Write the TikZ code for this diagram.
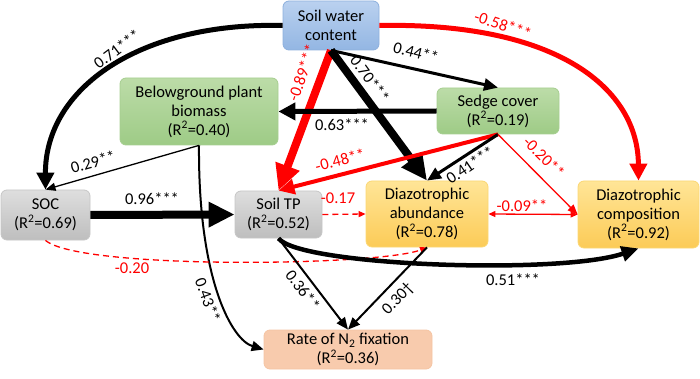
\documentclass[tikz,border=0pt]{standalone}
\usepackage{fontspec}
\setmainfont{Carlito}
\usetikzlibrary{arrows.meta}

\definecolor{bluetop}{HTML}{BAD1EF}
\definecolor{bluebot}{HTML}{93B6E3}
\definecolor{blueline}{HTML}{8DB0DD}
\definecolor{greentop}{HTML}{BCDCA8}
\definecolor{greenbot}{HTML}{9ECB86}
\definecolor{greenline}{HTML}{A6CE90}
\definecolor{graytop}{HTML}{DEDEDE}
\definecolor{graybot}{HTML}{BEBEBE}
\definecolor{grayline}{HTML}{C6C6C6}
\definecolor{orangetop}{HTML}{FFE597}
\definecolor{orangebot}{HTML}{FCCB57}
\definecolor{orangeline}{HTML}{FBD774}
\definecolor{peachfill}{HTML}{F8CBAD}
\definecolor{peachline}{HTML}{F5C4A3}

\tikzset{
  box/.style={rounded corners=6pt, line width=0.8pt, align=center, inner sep=0pt,
    font=\fontsize{16.5}{19}\selectfont},
  bluebox/.style={box, draw=blueline, top color=bluetop, bottom color=bluebot},
  greenbox/.style={box, draw=greenline, top color=greentop, bottom color=greenbot},
  graybox/.style={box, draw=grayline, top color=graytop, bottom color=graybot},
  orangebox/.style={box, draw=orangeline, top color=orangetop, bottom color=orangebot},
  peachbox/.style={box, draw=peachline, fill=peachfill},
  lbl/.style={inner sep=0pt, font=\fontsize{16.5}{19}\selectfont},
  redlbl/.style={lbl, text=red},
  heavy/.style={line width=8pt, -{Triangle[length=26pt,width=24pt]}},
  strong/.style={line width=5pt, -{Triangle[length=17pt,width=17pt]}},
  mid/.style={line width=3pt, -{Triangle[length=14pt,width=12pt]}},
  fine/.style={line width=2pt, -{Triangle[length=12pt,width=10pt]}},
  hair/.style={line width=1.3pt, -{Triangle[length=10pt,width=8pt]}},
  dashline/.style={red, line width=1.3pt, dash pattern=on 6pt off 4pt,
    -{Triangle[length=7pt,width=6pt]}},
}

\begin{document}
\begin{tikzpicture}[x=1pt,y=-1pt]
    \useasboundingbox (0,0) rectangle (700,379);
    % boxes
    \node[bluebox, minimum width=96pt, minimum height=49pt] (swc) at (331,25.5) {Soil water\\content};
    \node[greenbox, minimum width=158pt, minimum height=67pt] (bpb) at (199,111.5) {Belowground plant\\biomass\\(R\textsuperscript{2}=0.40)};
    \node[greenbox, minimum width=122pt, minimum height=46pt] (sedge) at (498,111) {Sedge cover\\(R\textsuperscript{2}=0.19)};
    \node[graybox, minimum width=89pt, minimum height=50pt] (soc) at (45.5,215) {SOC\\(R\textsuperscript{2}=0.69)};
    \node[graybox, minimum width=87pt, minimum height=47pt] (tp) at (278.5,214.5) {Soil TP\\(R\textsuperscript{2}=0.52)};
    \node[orangebox, minimum width=122pt, minimum height=66pt] (abund) at (427,214) {Diazotrophic\\abundance\\(R\textsuperscript{2}=0.78)};
    \node[orangebox, minimum width=121pt, minimum height=67pt] (comp) at (638.5,214.5) {Diazotrophic\\composition\\(R\textsuperscript{2}=0.92)};
    \node[peachbox, minimum width=168pt, minimum height=39pt] (rate) at (348,349.5) {Rate of N\textsubscript{2} fixation\\(R\textsuperscript{2}=0.36)};

    % paths from soil water content
    \draw[strong] (swc.west) .. controls (140,22) and (45,88) .. (soc.north);
    \draw[strong, red] (swc.east) .. controls (560,22) and (638,90) .. (comp.north);
    \draw[heavy, red] (swc.south) -- (tp.north);
    \draw[heavy] (swc.south) -- (abund.north);
    \draw[mid] (swc.south) -- (sedge.north);
    % paths from sedge cover
    \draw[strong] (sedge.west) -- (bpb.east);
    \draw[line width=4pt, red, -{Triangle[length=16pt,width=15pt]}] (sedge.south) -- (tp.north);
    \draw[mid] (sedge.south) -- (abund.north);
    \draw[hair, red] (sedge.south) -- (comp.west);
    % paths from belowground biomass
    \draw[hair] (bpb.south) -- (soc.north);
    \draw[fine] (bpb.south) .. controls (198,280) and (232,340) .. (rate.west);
    % paths from SOC and soil TP
    \draw[heavy] (soc.east) -- (tp.west);
    \draw[dashline] (soc.south) .. controls (80,270) and (380,266) .. (abund.south);
    \draw[dashline] (tp.east) -- (abund.west);
    \draw[line width=4.5pt, -{Triangle[length=17pt,width=15pt]}] (tp.south) .. controls (300,266) and (560,275) .. (comp.south);
    \draw[fine] (tp.south) -- (rate.north);
    \draw[fine] (abund.south) -- (rate.north);
    \draw[red, line width=1.3pt, {Triangle[length=7pt,width=6pt]}-{Triangle[length=7pt,width=6pt]}] (abund.east) -- (comp.west);

    % coefficients
    \node[lbl, rotate=37] at (117,49) {0.71***};
    \node[lbl, rotate=-14] at (416,52) {0.44**};
    \node[lbl, rotate=-54] at (370,79) {0.70***};
    \node[redlbl, rotate=71] at (302,73) {-0.89***};
    \node[redlbl, rotate=-18] at (503,25) {-0.58***};
    \node[lbl] at (342,125) {0.63***};
    \node[redlbl, rotate=15] at (340,160) {-0.48**};
    \node[lbl, rotate=34] at (470,165) {0.41***};
    \node[redlbl, rotate=-45] at (544,157) {-0.20**};
    \node[lbl, rotate=16] at (93,162) {0.29**};
    \node[lbl] at (152,199) {0.96***};
    \node[redlbl] at (338,198) {-0.17};
    \node[redlbl] at (522,206) {-0.09**};
    \node[redlbl] at (132,268) {-0.20};
    \node[lbl, rotate=-70] at (208,300) {0.43**};
    \node[lbl, rotate=-53] at (303,290) {0.36**};
    \node[lbl, rotate=46] at (398,299) {0.30\textdagger};
    \node[lbl] at (513,280) {0.51***};
\end{tikzpicture}
\end{document}
